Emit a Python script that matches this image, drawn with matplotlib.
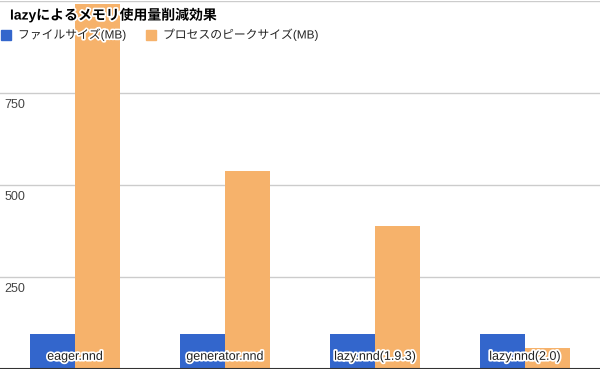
import numpy as np
import matplotlib
matplotlib.use("Agg")
import matplotlib.pyplot as plt
import matplotlib.patheffects as pe
import matplotlib.transforms as mtransforms

plt.rcParams['font.family'] = ['Liberation Sans', 'Noto Sans CJK JP', 'DejaVu Sans']

# data
categories = ['eager.nnd', 'generator.nnd', 'lazy.nnd(1.9.3)', 'lazy.nnd(2.0)']
file_size = [94, 94, 94, 94]
peak_size = [993, 538, 389, 56]
series_names = ['ファイルサイズ(MB)', 'プロセスのピークサイズ(MB)']
yticks = [250, 500, 750]
title = 'lazyによるメモリ使用量削減効果'

blue = '#3366cc'
orange = '#f6b26b'
outline = [pe.withStroke(linewidth=2.5, foreground='white')]

fig = plt.figure(figsize=(6.0, 3.71), dpi=100)
ax = fig.add_axes([0, 2 / 371, 1, 368 / 371])

x = np.arange(len(categories))
w = 0.3
ax.bar(x - w / 2 - 0.0033, file_size, width=w, color=blue, zorder=2)
ax.bar(x + w / 2 + 0.0033, peak_size, width=w, color=orange, zorder=2)

ax.set_xlim(-0.5, len(categories) - 0.5)
ax.set_ylim(0, 1000)

for v in yticks + [1000]:
    ax.axhline(v, color='#cccccc', linewidth=1, zorder=1)
ax.axhline(0, color='#333333', linewidth=1.5, zorder=3)

trans = mtransforms.blended_transform_factory(ax.transAxes, ax.transData)
for v in yticks:
    ax.text(0.008, v - 15, str(v), transform=trans, ha='left', va='top',
            fontsize=9, color='#444444', zorder=4)

for i, c in enumerate(categories):
    ax.text(x[i], 33, c, ha='center', va='center', fontsize=9,
            color='#222222', path_effects=outline, zorder=5)

for s in ax.spines.values():
    s.set_visible(False)
ax.set_xticks([])
ax.set_yticks([])

# title and legend sit on top of the plot
fig.text(10 / 600, 1 - 15 / 371, title, fontsize=10, fontweight='bold',
         ha='left', va='center', color='black', path_effects=outline, zorder=10)

leg_y = 1 - 35 / 371
for px, col, name in [(1, blue, series_names[0]), (146, orange, series_names[1])]:
    fig.patches.append(plt.Rectangle((px / 600, leg_y - 5 / 371), 10 / 600, 10 / 371,
                                     transform=fig.transFigure, color=col, zorder=10))
    fig.text((px + 17) / 600, leg_y, name, fontsize=8.5, ha='left', va='center',
             color='#222222', path_effects=outline, zorder=10)

fig.savefig('out.png', dpi=100)
